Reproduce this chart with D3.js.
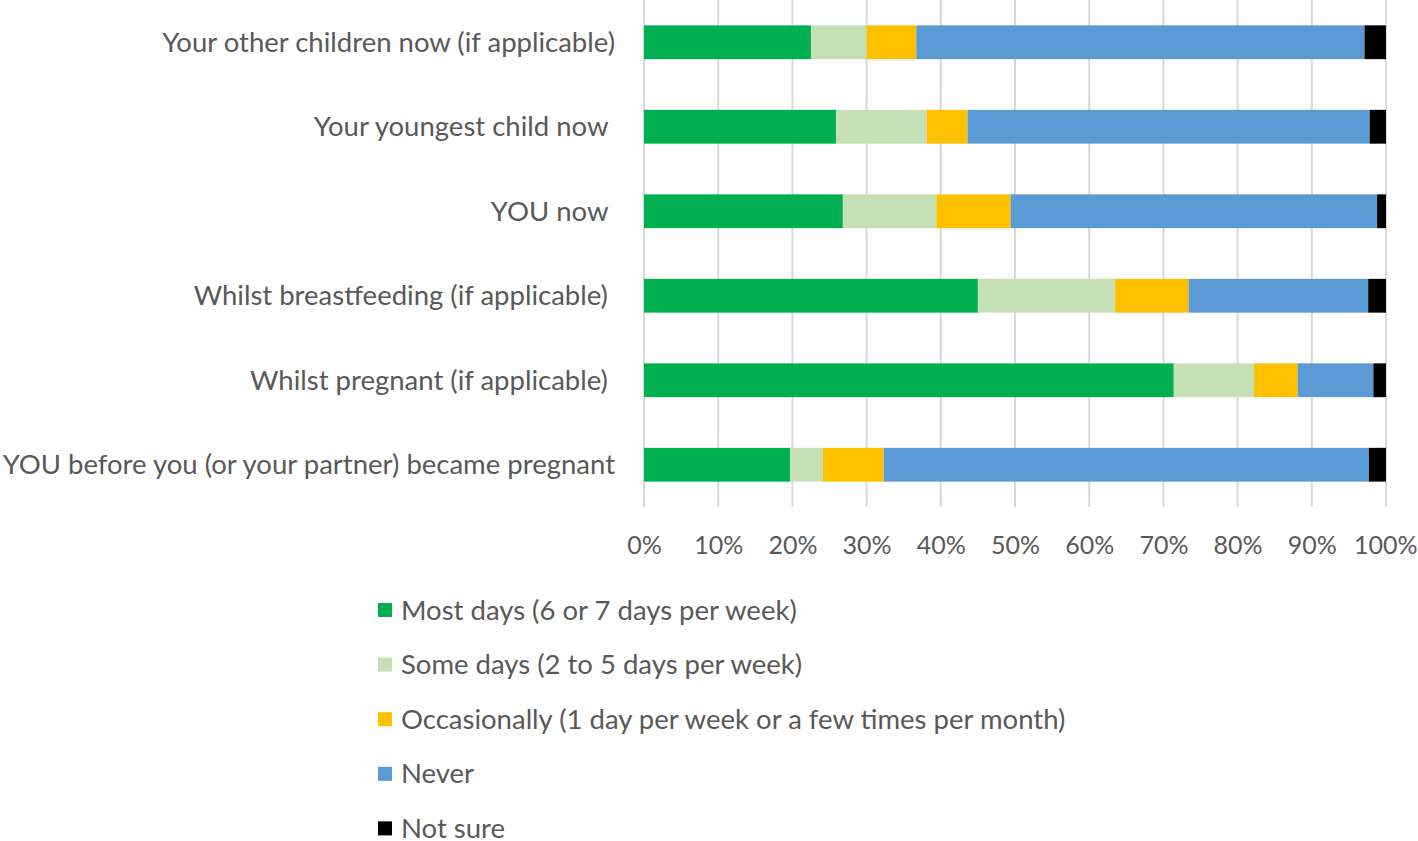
<!DOCTYPE html>
<html><head><meta charset="utf-8">
<script src="https://cdn.jsdelivr.net/npm/d3@7"></script>
<style>
html,body{margin:0;padding:0;background:#fff;}
text{font-family:Lato, "Open Sans", sans-serif;fill:#595959;white-space:pre;}
</style></head><body>
<svg id="chart" width="1418" height="841"></svg>
<script>
const categories = [
  "Your other children now (if applicable)",
  "Your youngest child now ",
  "YOU now ",
  "Whilst breastfeeding (if applicable) ",
  "Whilst pregnant (if applicable) ",
  "YOU before you (or your partner) became pregnant"
];
const seriesNames = [
  "Most days (6 or 7 days per week)",
  "Some days (2 to 5 days per week)",
  "Occasionally (1 day per week or a few times per month)",
  "Never",
  "Not sure"
];
const mostDays     = [22.5, 25.9, 26.8, 45.0, 71.4, 19.7];
const someDays     = [7.5, 12.2, 12.6, 18.5, 10.8, 4.4];
const occasionally = [6.7, 5.5, 10.0, 9.9, 5.9, 8.2];
const never        = [60.4, 54.2, 49.4, 24.2, 10.2, 65.4];
const notSure      = [2.9, 2.2, 1.2, 2.4, 1.7, 2.3];
const tickValues   = [0,10,20,30,40,50,60,70,80,90,100];
const colors = ["#00B050", "#C5E0B4", "#FFC000", "#5B9BD5", "#000000"];

const seriesValues = [mostDays, someDays, occasionally, never, notSure];
const keys = ["s0","s1","s2","s3","s4"];
const table = categories.map((c,i)=>{
  const row = {cat:c};
  keys.forEach((k,j)=>{ row[k] = seriesValues[j][i]; });
  return row;
});
const stacked = d3.stack().keys(keys)(table);

const svg = d3.select("#chart");
const x = d3.scaleLinear().domain([0,100]).range([644,1386]);
const y = d3.scaleBand().domain(categories).range([0,507]).paddingInner(0.6).paddingOuter(0.3);

// gridlines
svg.append("g").selectAll("line").data(tickValues).join("line")
  .attr("x1",d=>x(d)).attr("x2",d=>x(d)).attr("y1",0).attr("y2",507)
  .attr("stroke","#d9d9d9").attr("stroke-width",2);

// bars
svg.append("g").selectAll("g").data(stacked).join("g")
  .attr("fill",(d,i)=>colors[i])
  .selectAll("rect").data(d=>d).join("rect")
  .attr("x",d=>x(d[0])).attr("width",d=>x(d[1])-x(d[0]))
  .attr("y",d=>y(d.data.cat)).attr("height",y.bandwidth());

// x axis labels
const xAxis = d3.axisBottom(x).tickValues(tickValues).tickFormat(d=>d+"%").tickSize(0).tickPadding(0);
const gx = svg.append("g").attr("transform","translate(0,545)").call(xAxis);
gx.select(".domain").remove();
gx.selectAll("text").attr("font-size",25).attr("dy","0.35em").attr("y",0)
  .style("font-family","Lato, sans-serif").attr("fill","#595959");
gx.selectAll(".tick").filter(d=>d===100).select("text").attr("text-anchor","end").attr("x",31);

// y axis labels
const yAxis = d3.axisLeft(y).tickSize(0).tickPadding(0);
const gy = svg.append("g").attr("transform","translate(615,0)").call(yAxis);
gy.select(".domain").remove();
gy.selectAll("text").attr("font-size",27.5).attr("dy","0.35em")
  .style("font-family","Lato, sans-serif").attr("fill","#595959");

// legend
const leg = svg.append("g").selectAll("g").data(seriesNames).join("g")
  .attr("transform",(d,i)=>`translate(378,${610+i*54.6})`);
leg.append("rect").attr("x",0).attr("y",-7).attr("width",14).attr("height",14)
  .attr("fill",(d,i)=>colors[i]);
leg.append("text").attr("x",23).attr("y",0).attr("dy","0.35em").attr("font-size",27.5).text(d=>d);
</script>
</body></html>
